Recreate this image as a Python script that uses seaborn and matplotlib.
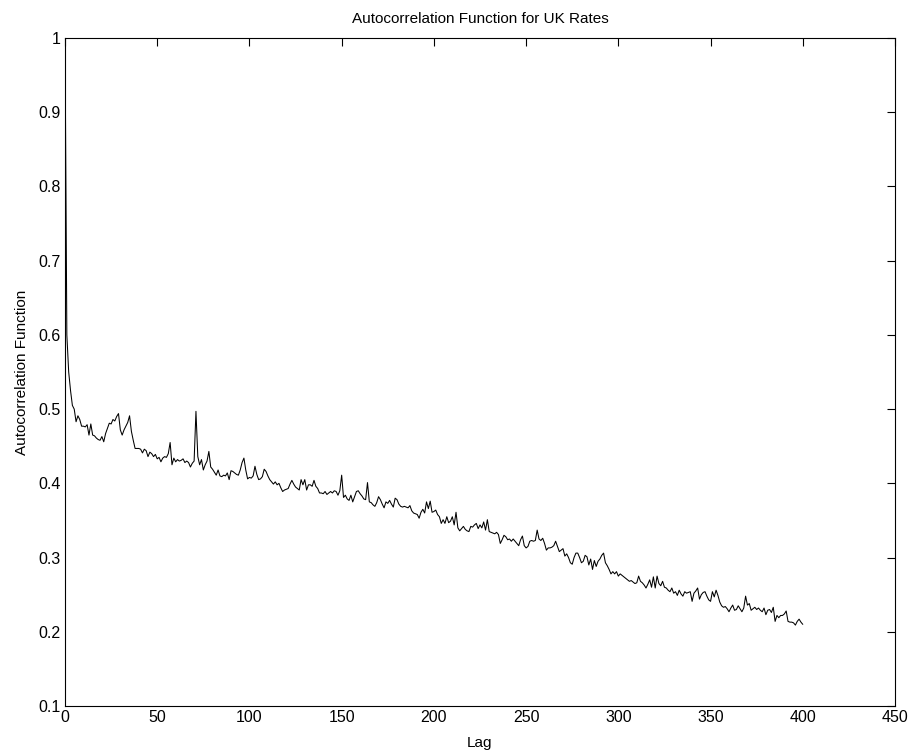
import numpy as np
import pandas as pd
import matplotlib
matplotlib.use("Agg")
import matplotlib.pyplot as plt
import seaborn as sns

# Autocorrelation values for lags 0..400
acf_0_39 = [1.000, 0.600, 0.550, 0.525, 0.505, 0.500, 0.483, 0.491, 0.486, 0.477,
            0.477, 0.476, 0.479, 0.465, 0.480, 0.465, 0.464, 0.461, 0.459, 0.458,
            0.463, 0.456, 0.467, 0.474, 0.481, 0.480, 0.486, 0.484, 0.490, 0.494,
            0.472, 0.465, 0.472, 0.477, 0.482, 0.491, 0.470, 0.458, 0.447, 0.447]
acf_40_78 = [0.447, 0.446, 0.441, 0.446, 0.444, 0.436, 0.442, 0.440, 0.436, 0.439,
             0.433, 0.435, 0.429, 0.434, 0.436, 0.435, 0.440, 0.455, 0.425, 0.434,
             0.429, 0.432, 0.430, 0.431, 0.433, 0.428, 0.430, 0.428, 0.422, 0.427,
             0.430, 0.497, 0.436, 0.425, 0.432, 0.418, 0.425, 0.430, 0.443]
acf_79_115 = [0.422, 0.419, 0.415, 0.411, 0.418, 0.410, 0.409, 0.411, 0.410, 0.414,
              0.405, 0.417, 0.416, 0.414, 0.412, 0.411, 0.418, 0.428, 0.434, 0.418,
              0.406, 0.408, 0.407, 0.410, 0.423, 0.412, 0.405, 0.406, 0.409, 0.419,
              0.416, 0.410, 0.405, 0.402, 0.399, 0.402, 0.398]
acf_116_149 = [0.400, 0.394, 0.389, 0.391, 0.392, 0.393, 0.399, 0.404, 0.399, 0.395,
               0.393, 0.391, 0.405, 0.398, 0.405, 0.391, 0.398, 0.398, 0.396, 0.404,
               0.396, 0.393, 0.387, 0.387, 0.386, 0.389, 0.385, 0.387, 0.389, 0.387,
               0.390, 0.389, 0.384, 0.390]
acf_150_192 = [0.411, 0.381, 0.384, 0.379, 0.377, 0.384, 0.375, 0.382, 0.389, 0.390,
               0.386, 0.383, 0.379, 0.378, 0.401, 0.375, 0.374, 0.371, 0.369, 0.374,
               0.382, 0.378, 0.372, 0.367, 0.375, 0.373, 0.377, 0.372, 0.368, 0.380,
               0.378, 0.372, 0.369, 0.368, 0.369, 0.368, 0.367, 0.370, 0.363, 0.360,
               0.359, 0.358, 0.353]
acf_193_230 = [0.361, 0.365, 0.360, 0.375, 0.366, 0.376, 0.361, 0.362, 0.364, 0.358,
               0.355, 0.346, 0.351, 0.346, 0.355, 0.347, 0.349, 0.355, 0.344, 0.361,
               0.340, 0.336, 0.339, 0.342, 0.338, 0.336, 0.335, 0.342, 0.341, 0.344,
               0.346, 0.339, 0.344, 0.340, 0.348, 0.337, 0.351, 0.335]
acf_231_268 = [0.334, 0.333, 0.332, 0.334, 0.331, 0.319, 0.324, 0.330, 0.328, 0.324,
               0.325, 0.322, 0.325, 0.322, 0.319, 0.316, 0.324, 0.329, 0.316, 0.313,
               0.315, 0.322, 0.323, 0.322, 0.323, 0.337, 0.325, 0.323, 0.326, 0.319,
               0.310, 0.313, 0.313, 0.314, 0.316, 0.322, 0.315, 0.308]
acf_269_306 = [0.310, 0.312, 0.302, 0.305, 0.300, 0.293, 0.291, 0.300, 0.306, 0.306,
               0.300, 0.293, 0.295, 0.303, 0.301, 0.290, 0.298, 0.284, 0.296, 0.288,
               0.295, 0.298, 0.303, 0.306, 0.293, 0.289, 0.284, 0.278, 0.281, 0.278,
               0.281, 0.275, 0.278, 0.276, 0.274, 0.272, 0.270, 0.268]
acf_307_344 = [0.269, 0.267, 0.265, 0.266, 0.275, 0.268, 0.266, 0.263, 0.259, 0.264,
               0.270, 0.260, 0.274, 0.259, 0.275, 0.265, 0.262, 0.268, 0.260, 0.259,
               0.256, 0.254, 0.259, 0.252, 0.254, 0.249, 0.256, 0.251, 0.248, 0.254,
               0.252, 0.253, 0.254, 0.241, 0.252, 0.255, 0.259, 0.244]
acf_345_382 = [0.250, 0.253, 0.254, 0.248, 0.243, 0.241, 0.254, 0.247, 0.256, 0.249,
               0.240, 0.235, 0.233, 0.234, 0.231, 0.227, 0.232, 0.236, 0.229, 0.230,
               0.235, 0.231, 0.227, 0.232, 0.248, 0.236, 0.238, 0.229, 0.231, 0.233,
               0.230, 0.232, 0.229, 0.227, 0.232, 0.223, 0.229, 0.230]
acf_383_400 = [0.226, 0.233, 0.214, 0.222, 0.219, 0.222, 0.222, 0.224, 0.228, 0.214,
               0.213, 0.213, 0.212, 0.209, 0.214, 0.217, 0.213, 0.210]

acf = (acf_0_39 + acf_40_78 + acf_79_115 + acf_116_149 + acf_150_192 + acf_193_230
       + acf_231_268 + acf_269_306 + acf_307_344 + acf_345_382 + acf_383_400)
lags = list(range(len(acf)))

x_ticks = [0, 50, 100, 150, 200, 250, 300, 350, 400, 450]
y_ticks = [0.1, 0.2, 0.3, 0.4, 0.5, 0.6, 0.7, 0.8, 0.9, 1.0]
y_tick_labels = ["0.1", "0.2", "0.3", "0.4", "0.5", "0.6", "0.7", "0.8", "0.9", "1"]

title = "Autocorrelation Function for UK Rates"
x_label = "Lag"
y_label = "Autocorrelation Function"

sns.set_theme(style="white")
plt.rcParams["font.family"] = ["Liberation Sans", "DejaVu Sans"]

df = pd.DataFrame({"Lag": lags, "ACF": acf})

fig = plt.figure(figsize=(9.1, 7.56), dpi=100)
ax = fig.add_axes([65 / 910, 50 / 756, 830 / 910, 668 / 756])
sns.lineplot(data=df, x="Lag", y="ACF", ax=ax, color="black", linewidth=0.75)

ax.set_xlim(0, 450)
ax.set_ylim(0.1, 1.0)
ax.set_xticks(x_ticks)
ax.set_xticklabels([str(t) for t in x_ticks])
ax.set_yticks(y_ticks)
ax.set_yticklabels(y_tick_labels)
ax.tick_params(direction="in", length=6, width=0.8, top=True, right=True,
               labelsize=11.5, colors="black", pad=3)
for s in ax.spines.values():
    s.set_visible(True)
    s.set_color("black")
    s.set_linewidth(0.8)
ax.set_title(title, fontsize=11, color="black", pad=11)
ax.set_xlabel(x_label, fontsize=11, color="black", labelpad=8)
ax.set_ylabel(y_label, fontsize=11, color="black", labelpad=7)
ax.grid(False)

fig.savefig("out.png", dpi=100, facecolor="white")
